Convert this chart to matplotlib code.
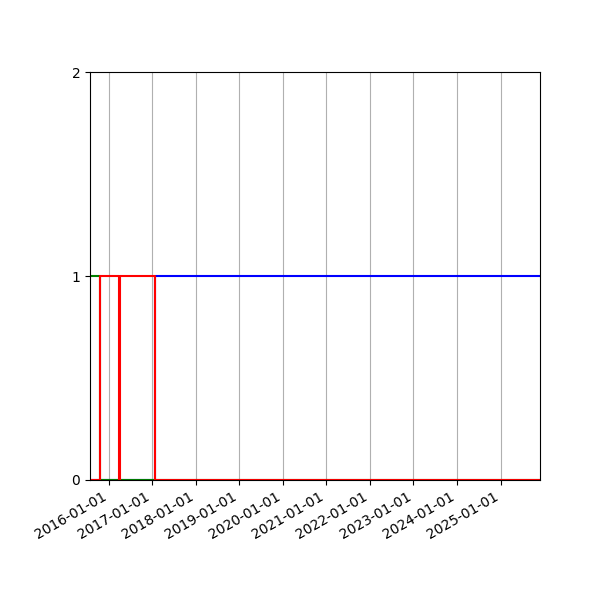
import matplotlib
matplotlib.use("Agg")
import matplotlib.pyplot as plt
import matplotlib.dates as mdates
import numpy as np

# state change dates and 0/1 state of each series after that date
dates = ["2015-07-29", "2015-10-21", "2016-03-31", "2016-04-04",
         "2017-01-23", "2025-11-28"]
green = [1, 0, 0, 0, 0, 0]
red = [0, 1, 0, 1, 0, 0]
blue = [0, 0, 0, 0, 1, 1]

x = np.array(dates, dtype="datetime64[D]")

fig, ax = plt.subplots(figsize=(6, 6), dpi=100)
ax.plot(x, blue, color="blue", drawstyle="steps-post", linewidth=1.5)
ax.plot(x, green, color="green", drawstyle="steps-post", linewidth=1.5)
ax.plot(x, red, color="red", drawstyle="steps-post", linewidth=1.5)

ax.set_xlim(x[0], x[-1])
ax.set_ylim(0, 2)
ax.set_yticks([0, 1, 2])
ax.xaxis.set_major_locator(mdates.YearLocator())
ax.xaxis.set_major_formatter(mdates.DateFormatter("%Y-%m-%d"))
ax.grid(True, axis="x")
fig.autofmt_xdate()
fig.subplots_adjust(left=0.15, right=0.9, top=0.88, bottom=0.2)
fig.savefig("out.png")
